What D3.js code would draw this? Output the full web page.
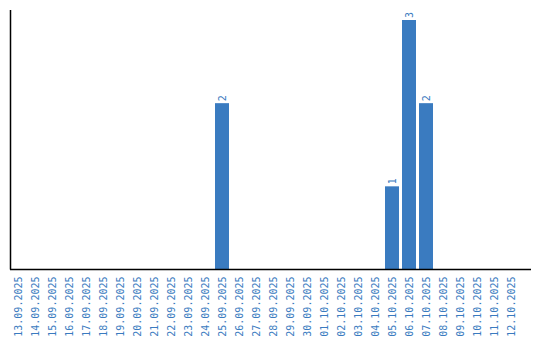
<!DOCTYPE html>
<html>
<head>
<meta charset="utf-8">
<script src="https://cdn.jsdelivr.net/npm/d3@7"></script>
<style>
  body { margin: 0; background: #fff; }
  text { font-family: "DejaVu Sans Mono", "Liberation Mono", monospace; }
</style>
</head>
<body>
<script>
var dates = ['13.09.2025', '14.09.2025', '15.09.2025', '16.09.2025', '17.09.2025', '18.09.2025',
  '19.09.2025', '20.09.2025', '21.09.2025', '22.09.2025', '23.09.2025', '24.09.2025',
  '25.09.2025', '26.09.2025', '27.09.2025', '28.09.2025', '29.09.2025', '30.09.2025',
  '01.10.2025', '02.10.2025', '03.10.2025', '04.10.2025', '05.10.2025', '06.10.2025',
  '07.10.2025', '08.10.2025', '09.10.2025', '10.10.2025', '11.10.2025', '12.10.2025'];
var counts = [0, 0, 0, 0, 0, 0, 0, 0, 0, 0, 0, 0,
  2, 0, 0, 0, 0, 0, 0, 0, 0, 0, 1, 3,
  2, 0, 0, 0, 0, 0];

var width = 540, height = 340;
var left = 11, base = 269.5;
var blue = '#3a7bc0';

var svg = d3.select('body')
  .append('svg')
  .attr('width', width)
  .attr('height', height);

var x = d3.scaleBand()
  .domain(dates)
  .range([left, left + 507])
  .paddingInner(3 / 17)
  .paddingOuter(0);

var y = d3.scaleLinear()
  .domain([0, 3])
  .range([base, 20]);

// only days with a value get a bar and a label
var rows = dates.map(function(d, i){ return {date: d, value: counts[i]}; })
  .filter(function(r){ return r.value > 0; });

svg.selectAll('rect.bar')
  .data(rows)
  .enter()
  .append('rect')
  .attr('class', 'bar')
  .attr('x', function(r){ return x(r.date); })
  .attr('y', function(r){ return y(r.value); })
  .attr('width', x.bandwidth())
  .attr('height', function(r){ return base - y(r.value); })
  .attr('fill', blue);

svg.selectAll('text.val')
  .data(rows)
  .enter()
  .append('text')
  .attr('class', 'val')
  .attr('transform', function(r){
    return 'translate(' + (x(r.date) + x.bandwidth() / 2) + ',' + (y(r.value) - 2) + ') rotate(-90)';
  })
  .attr('dy', '0.35em')
  .attr('font-size', 10)
  .attr('fill', blue)
  .text(function(r){ return r.value; });

// x axis
var xAxis = d3.axisBottom(x).tickSize(0).tickPadding(0);
var gx = svg.append('g')
  .attr('transform', 'translate(0,' + base + ')')
  .call(xAxis);
gx.select('.domain').remove();
gx.selectAll('text')
  .attr('font-size', 10)
  .attr('fill', blue)
  .attr('text-anchor', 'end')
  .attr('transform', 'rotate(-90)')
  .attr('x', -7)
  .attr('y', 0)
  .attr('dy', '0.35em');

// axis lines
svg.append('line')
  .attr('x1', left - 0.5).attr('x2', left - 0.5)
  .attr('y1', 10).attr('y2', base)
  .attr('stroke', '#000').attr('stroke-width', 1.5);
svg.append('line')
  .attr('x1', left - 1).attr('x2', 531)
  .attr('y1', base).attr('y2', base)
  .attr('stroke', '#000').attr('stroke-width', 1.5);
</script>
</body>
</html>
